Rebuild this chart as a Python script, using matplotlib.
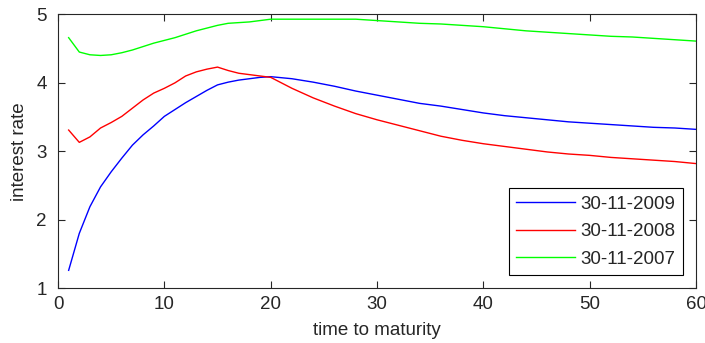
import numpy as np
import matplotlib
matplotlib.use("Agg")
import matplotlib.pyplot as plt

plt.rcParams['font.family'] = ['Liberation Sans', 'DejaVu Sans']

# maturities (years)
t = list(range(1, 21)) + list(range(22, 61, 2))

rate_2009 = [1.26, 1.80, 2.19, 2.48, 2.70, 2.90, 3.09, 3.24, 3.37, 3.51,
             3.61, 3.71, 3.80, 3.89, 3.97, 4.01, 4.04, 4.06, 4.08, 4.09,
             4.06, 4.01, 3.95, 3.88, 3.82, 3.76, 3.70, 3.66, 3.61, 3.56,
             3.52, 3.49, 3.46, 3.43, 3.41, 3.39, 3.37, 3.35, 3.34, 3.32]
rate_2008 = [3.31, 3.13, 3.21, 3.34, 3.42, 3.51, 3.63, 3.75, 3.85, 3.92,
             4.00, 4.10, 4.16, 4.20, 4.23, 4.18, 4.14, 4.12, 4.10, 4.08,
             3.92, 3.78, 3.66, 3.55, 3.46, 3.38, 3.30, 3.22, 3.16, 3.11,
             3.07, 3.03, 2.99, 2.96, 2.94, 2.91, 2.89, 2.87, 2.85, 2.82]
rate_2007 = [4.66, 4.45, 4.41, 4.40, 4.41, 4.44, 4.48, 4.53, 4.58, 4.62,
             4.66, 4.71, 4.76, 4.80, 4.84, 4.87, 4.88, 4.89, 4.91, 4.93,
             4.93, 4.93, 4.93, 4.93, 4.91, 4.89, 4.87, 4.86, 4.84, 4.82,
             4.79, 4.76, 4.74, 4.72, 4.70, 4.68, 4.67, 4.65, 4.63, 4.61]
labels = ["30-11-2009", "30-11-2008", "30-11-2007"]

fig = plt.figure(figsize=(7.05, 3.43), dpi=100)
ax = fig.add_axes([0.0823, 0.160, 0.905, 0.798])

ax.plot(t, rate_2009, color="#0000ff", lw=1.0, label=labels[0])
ax.plot(t, rate_2008, color="#ff0000", lw=1.0, label=labels[1])
ax.plot(t, rate_2007, color="#00ff00", lw=1.0, label=labels[2])

ax.set_xlim(0, 60)
ax.set_ylim(1, 5)
ax.set_xticks(np.arange(0, 61, 10))
ax.set_yticks([1, 2, 3, 4, 5])
ax.tick_params(direction="in", top=True, right=True, length=5, width=0.8,
               labelsize=13.5, colors="#262626")
ax.tick_params(axis="x", pad=6)
ax.tick_params(axis="y", pad=8)
for sp in ax.spines.values():
    sp.set_color("#262626")
    sp.set_linewidth(0.8)

ax.set_xlabel("time to maturity", fontsize=13.5, labelpad=6, color="#262626")
ax.set_ylabel("interest rate", fontsize=13.5, labelpad=6, color="#262626")

leg = ax.legend(loc="lower right", bbox_to_anchor=(0.979, 0.0475),
                borderaxespad=0, fontsize=13.5, handlelength=3.1,
                handletextpad=0.3, labelspacing=0.55, borderpad=0.4,
                fancybox=False, framealpha=1, edgecolor="black")
leg.get_frame().set_linewidth(0.8)
for txt in leg.get_texts():
    txt.set_color("#262626")

plt.savefig("out.png", dpi=100)
